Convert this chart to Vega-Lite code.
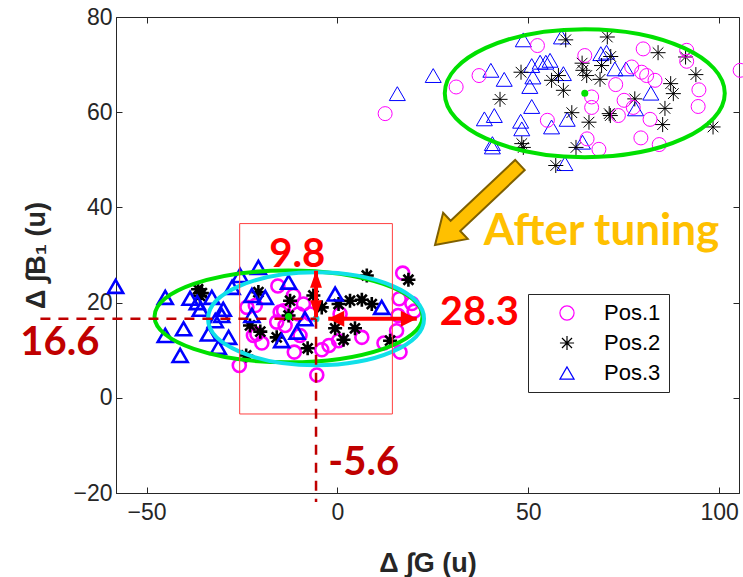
{
"$schema":"https://vega.github.io/schema/vega-lite/v6.json",
"width":623,"height":476,
"autosize":{"type":"none"},
"padding":{"left":116,"top":17,"right":4,"bottom":84},
"background":"white",
"config":{
 "view":{"stroke":"#262626","strokeWidth":1},
 "axis":{"grid":false,"domainColor":"#262626","domainWidth":1,"tickColor":"#262626","tickSize":-6,"tickWidth":1,"labelColor":"#262626","labelFont":"Liberation Sans","labelFontSize":23,"titleFont":"Liberation Sans","titleFontSize":27,"titleFontWeight":"bold","titleColor":"#262626"}
},
"datasets":{
 "pts":[
  {"x":15.7,"y":63.9,"pos":"Pos.3","phase":"before"},{"x":25.1,"y":67.7,"pos":"Pos.3","phase":"before"},{"x":48.7,"y":75.2,"pos":"Pos.3","phase":"before"},{"x":58.7,"y":75.8,"pos":"Pos.3","phase":"before"},{"x":40.2,"y":68.8,"pos":"Pos.3","phase":"before"},{"x":43.7,"y":66.9,"pos":"Pos.3","phase":"before"},{"x":50.9,"y":69.8,"pos":"Pos.3","phase":"before"},{"x":53.1,"y":70.5,"pos":"Pos.3","phase":"before"},{"x":54.6,"y":70.5,"pos":"Pos.3","phase":"before"},{"x":55.7,"y":70.9,"pos":"Pos.3","phase":"before"},{"x":59.2,"y":68.1,"pos":"Pos.3","phase":"before"},{"x":51.2,"y":67.4,"pos":"Pos.3","phase":"before"},{"x":50.4,"y":65.4,"pos":"Pos.3","phase":"before"},{"x":50.9,"y":61.2,"pos":"Pos.3","phase":"before"},{"x":41.1,"y":59.3,"pos":"Pos.3","phase":"before"},{"x":38.5,"y":58.6,"pos":"Pos.3","phase":"before"},{"x":48.0,"y":58.1,"pos":"Pos.3","phase":"before"},{"x":48.3,"y":56.5,"pos":"Pos.3","phase":"before"},{"x":56.1,"y":56.9,"pos":"Pos.3","phase":"before"},{"x":60.2,"y":58.5,"pos":"Pos.3","phase":"before"},{"x":40.6,"y":53.4,"pos":"Pos.3","phase":"before"},{"x":40.6,"y":52.7,"pos":"Pos.3","phase":"before"},{"x":64.2,"y":53.7,"pos":"Pos.3","phase":"before"},{"x":59.6,"y":49.2,"pos":"Pos.3","phase":"before"},{"x":69.0,"y":72.3,"pos":"Pos.3","phase":"before"},{"x":70.5,"y":72.6,"pos":"Pos.3","phase":"before"},{"x":72.7,"y":69.1,"pos":"Pos.3","phase":"before"},{"x":75.6,"y":69.1,"pos":"Pos.3","phase":"before"},{"x":82.1,"y":64.0,"pos":"Pos.3","phase":"before"},{"x":78.1,"y":60.7,"pos":"Pos.3","phase":"before"},
  {"x":59.8,"y":75.2,"pos":"Pos.2","phase":"before"},{"x":70.7,"y":75.8,"pos":"Pos.2","phase":"before"},{"x":48.1,"y":68.4,"pos":"Pos.2","phase":"before"},{"x":56.1,"y":66.7,"pos":"Pos.2","phase":"before"},{"x":59.2,"y":64.6,"pos":"Pos.2","phase":"before"},{"x":42.6,"y":62.7,"pos":"Pos.2","phase":"before"},{"x":57.9,"y":67.7,"pos":"Pos.2","phase":"before"},{"x":64.1,"y":70.3,"pos":"Pos.2","phase":"before"},{"x":64.3,"y":68.8,"pos":"Pos.2","phase":"before"},{"x":65.3,"y":67.7,"pos":"Pos.2","phase":"before"},{"x":69.2,"y":69.8,"pos":"Pos.2","phase":"before"},{"x":71.6,"y":71.7,"pos":"Pos.2","phase":"before"},{"x":68.8,"y":66.9,"pos":"Pos.2","phase":"before"},{"x":61.4,"y":59.9,"pos":"Pos.2","phase":"before"},{"x":65.9,"y":57.9,"pos":"Pos.2","phase":"before"},{"x":71.2,"y":59.7,"pos":"Pos.2","phase":"before"},{"x":71.5,"y":59.3,"pos":"Pos.2","phase":"before"},{"x":77.9,"y":62.8,"pos":"Pos.2","phase":"before"},{"x":84.0,"y":72.5,"pos":"Pos.2","phase":"before"},{"x":91.2,"y":71.6,"pos":"Pos.2","phase":"before"},{"x":93.9,"y":67.9,"pos":"Pos.2","phase":"before"},{"x":87.3,"y":66.0,"pos":"Pos.2","phase":"before"},{"x":88.0,"y":63.9,"pos":"Pos.2","phase":"before"},{"x":85.8,"y":60.8,"pos":"Pos.2","phase":"before"},{"x":85.2,"y":57.4,"pos":"Pos.2","phase":"before"},{"x":98.4,"y":56.9,"pos":"Pos.2","phase":"before"},{"x":48.3,"y":53.4,"pos":"Pos.2","phase":"before"},{"x":48.7,"y":52.6,"pos":"Pos.2","phase":"before"},{"x":62.5,"y":52.6,"pos":"Pos.2","phase":"before"},{"x":57.2,"y":48.8,"pos":"Pos.2","phase":"before"},
  {"x":12.5,"y":59.7,"pos":"Pos.1","phase":"before"},{"x":31.1,"y":65.3,"pos":"Pos.1","phase":"before"},{"x":37.1,"y":67.7,"pos":"Pos.1","phase":"before"},{"x":52.4,"y":74.0,"pos":"Pos.1","phase":"before"},{"x":64.8,"y":71.9,"pos":"Pos.1","phase":"before"},{"x":80.1,"y":73.3,"pos":"Pos.1","phase":"before"},{"x":91.5,"y":73.0,"pos":"Pos.1","phase":"before"},{"x":91.5,"y":70.7,"pos":"Pos.1","phase":"before"},{"x":77.1,"y":69.5,"pos":"Pos.1","phase":"before"},{"x":79.7,"y":68.4,"pos":"Pos.1","phase":"before"},{"x":81.0,"y":67.7,"pos":"Pos.1","phase":"before"},{"x":83.2,"y":66.7,"pos":"Pos.1","phase":"before"},{"x":72.9,"y":65.8,"pos":"Pos.1","phase":"before"},{"x":66.6,"y":63.2,"pos":"Pos.1","phase":"before"},{"x":66.6,"y":61.0,"pos":"Pos.1","phase":"before"},{"x":75.1,"y":62.5,"pos":"Pos.1","phase":"before"},{"x":77.5,"y":61.0,"pos":"Pos.1","phase":"before"},{"x":73.6,"y":59.3,"pos":"Pos.1","phase":"before"},{"x":81.9,"y":58.5,"pos":"Pos.1","phase":"before"},{"x":94.7,"y":64.7,"pos":"Pos.1","phase":"before"},{"x":94.5,"y":61.2,"pos":"Pos.1","phase":"before"},{"x":105.5,"y":68.8,"pos":"Pos.1","phase":"before"},{"x":55.0,"y":58.3,"pos":"Pos.1","phase":"before"},{"x":79.5,"y":54.6,"pos":"Pos.1","phase":"before"},{"x":84.3,"y":53.2,"pos":"Pos.1","phase":"before"},{"x":65.4,"y":54.4,"pos":"Pos.1","phase":"before"},{"x":68.5,"y":52.2,"pos":"Pos.1","phase":"before"},
  {"x":-25.7,"y":6.8,"pos":"Pos.1","phase":"after"},{"x":-5.4,"y":4.8,"pos":"Pos.1","phase":"after"},{"x":-15.6,"y":23.5,"pos":"Pos.1","phase":"after"},{"x":-11.5,"y":21.5,"pos":"Pos.1","phase":"after"},{"x":-21.5,"y":19.4,"pos":"Pos.1","phase":"after"},{"x":-23.7,"y":19.0,"pos":"Pos.1","phase":"after"},{"x":-15.0,"y":18.0,"pos":"Pos.1","phase":"after"},{"x":-10.2,"y":17.6,"pos":"Pos.1","phase":"after"},{"x":-14.1,"y":18.3,"pos":"Pos.1","phase":"after"},{"x":-8.9,"y":19.7,"pos":"Pos.1","phase":"after"},{"x":-7.1,"y":17.6,"pos":"Pos.1","phase":"after"},{"x":-15.9,"y":15.9,"pos":"Pos.1","phase":"after"},{"x":-13.7,"y":15.2,"pos":"Pos.1","phase":"after"},{"x":-21.1,"y":13.4,"pos":"Pos.1","phase":"after"},{"x":-22.0,"y":13.1,"pos":"Pos.1","phase":"after"},{"x":-19.8,"y":11.5,"pos":"Pos.1","phase":"after"},{"x":-9.8,"y":13.1,"pos":"Pos.1","phase":"after"},{"x":-11.3,"y":9.6,"pos":"Pos.1","phase":"after"},{"x":-4.1,"y":10.1,"pos":"Pos.1","phase":"after"},{"x":-2.2,"y":11.0,"pos":"Pos.1","phase":"after"},{"x":0.3,"y":12.0,"pos":"Pos.1","phase":"after"},{"x":0.7,"y":17.6,"pos":"Pos.1","phase":"after"},{"x":6.4,"y":12.7,"pos":"Pos.1","phase":"after"},{"x":12.2,"y":11.5,"pos":"Pos.1","phase":"after"},{"x":16.4,"y":9.6,"pos":"Pos.1","phase":"after"},{"x":15.5,"y":14.1,"pos":"Pos.1","phase":"after"},{"x":17.1,"y":26.2,"pos":"Pos.1","phase":"after"},{"x":16.2,"y":20.8,"pos":"Pos.1","phase":"after"},{"x":19.5,"y":19.8,"pos":"Pos.1","phase":"after"},{"x":20.1,"y":18.2,"pos":"Pos.1","phase":"after"},{"x":15.9,"y":17.3,"pos":"Pos.1","phase":"after"},
  {"x":-36.5,"y":22.8,"pos":"Pos.2","phase":"after"},{"x":-35.5,"y":22.0,"pos":"Pos.2","phase":"after"},{"x":-36.0,"y":21.4,"pos":"Pos.2","phase":"after"},{"x":-20.7,"y":22.2,"pos":"Pos.2","phase":"after"},{"x":-12.4,"y":20.4,"pos":"Pos.2","phase":"after"},{"x":-12.8,"y":17.3,"pos":"Pos.2","phase":"after"},{"x":-20.2,"y":13.9,"pos":"Pos.2","phase":"after"},{"x":-15.9,"y":12.7,"pos":"Pos.2","phase":"after"},{"x":-7.8,"y":10.4,"pos":"Pos.2","phase":"after"},{"x":-6.3,"y":21.5,"pos":"Pos.2","phase":"after"},{"x":-4.1,"y":19.0,"pos":"Pos.2","phase":"after"},{"x":0.3,"y":19.7,"pos":"Pos.2","phase":"after"},{"x":3.3,"y":20.4,"pos":"Pos.2","phase":"after"},{"x":6.4,"y":20.6,"pos":"Pos.2","phase":"after"},{"x":9.0,"y":19.7,"pos":"Pos.2","phase":"after"},{"x":7.7,"y":25.7,"pos":"Pos.2","phase":"after"},{"x":-0.6,"y":14.6,"pos":"Pos.2","phase":"after"},{"x":1.6,"y":12.2,"pos":"Pos.2","phase":"after"},{"x":4.6,"y":14.6,"pos":"Pos.2","phase":"after"},{"x":13.8,"y":12.0,"pos":"Pos.2","phase":"after"},{"x":18.6,"y":24.8,"pos":"Pos.2","phase":"after"},{"x":-22.9,"y":15.2,"pos":"Pos.2","phase":"after"},{"x":-23.9,"y":8.9,"pos":"Pos.2","phase":"after"},
  {"x":-58.1,"y":23.4,"pos":"Pos.3","phase":"after"},{"x":-45.1,"y":21.1,"pos":"Pos.3","phase":"after"},{"x":-38.6,"y":20.9,"pos":"Pos.3","phase":"after"},{"x":-36.7,"y":20.0,"pos":"Pos.3","phase":"after"},{"x":-32.9,"y":21.1,"pos":"Pos.3","phase":"after"},{"x":-35.9,"y":18.6,"pos":"Pos.3","phase":"after"},{"x":-29.9,"y":18.6,"pos":"Pos.3","phase":"after"},{"x":-27.6,"y":23.2,"pos":"Pos.3","phase":"after"},{"x":-40.3,"y":14.5,"pos":"Pos.3","phase":"after"},{"x":-45.1,"y":13.1,"pos":"Pos.3","phase":"after"},{"x":-33.8,"y":13.4,"pos":"Pos.3","phase":"after"},{"x":-28.5,"y":12.7,"pos":"Pos.3","phase":"after"},{"x":-41.2,"y":8.9,"pos":"Pos.3","phase":"after"},{"x":-31.2,"y":10.6,"pos":"Pos.3","phase":"after"},{"x":-32.0,"y":16.2,"pos":"Pos.3","phase":"after"},{"x":-30.3,"y":17.3,"pos":"Pos.3","phase":"after"},{"x":-25.5,"y":25.7,"pos":"Pos.3","phase":"after"},{"x":-20.7,"y":27.4,"pos":"Pos.3","phase":"after"},{"x":-22.4,"y":21.5,"pos":"Pos.3","phase":"after"},{"x":-18.9,"y":21.1,"pos":"Pos.3","phase":"after"},{"x":-12.8,"y":24.3,"pos":"Pos.3","phase":"after"},{"x":-22.4,"y":17.3,"pos":"Pos.3","phase":"after"},{"x":-14.6,"y":12.0,"pos":"Pos.3","phase":"after"},{"x":-10.6,"y":13.8,"pos":"Pos.3","phase":"after"},{"x":-8.5,"y":16.6,"pos":"Pos.3","phase":"after"},{"x":-0.6,"y":21.8,"pos":"Pos.3","phase":"after"},{"x":11.6,"y":19.0,"pos":"Pos.3","phase":"after"}
 ],
 "ell":[{"x":64.8,"y":64.0,"name":"upper"},{"x":-12.8,"y":17.1,"name":"lower"},{"x":-5.6,"y":16.6,"name":"cyan"}],
 "box":[{"x1":-25.6,"x2":14.4,"y1":-3.4,"y2":36.6}],
 "dash":[{"x1":-77.8,"x2":-5.6,"y1":16.6,"y2":16.6},{"x1":-5.6,"x2":-5.6,"y1":16.6,"y2":-21.9}],
 "shaft":[{"x1":-5.6,"x2":-5.6,"y1":16.9,"y2":26.7},{"x1":-2.4,"x2":20.8,"y1":16.6,"y2":16.6}],
 "heads":[{"x":-5.6,"y":26.7,"dir":"up"},{"x":-5.6,"y":16.9,"dir":"down"},{"x":-2.4,"y":16.6,"dir":"left"},{"x":20.8,"y":16.6,"dir":"right"}],
 "arrow":[{"x":36.7,"y":40.5}],
 "labels":[{"x":-72.7,"y":11.6,"text":"16.6","kind":"dark"},{"x":6.9,"y":-13.8,"text":"-5.6","kind":"dark"},{"x":-10.5,"y":30.0,"text":"9.8","kind":"red"},{"x":37.2,"y":17.8,"text":"28.3","kind":"red"},{"x":69.2,"y":34.9,"text":"After tuning","kind":"orange"}]
},
"resolve":{"axis":{"x":"independent","y":"independent"},"scale":{"size":"independent"}},
"layer":[
 {"data":{"name":"pts"},"transform":[{"filter":"datum.phase=='before'"}],
  "mark":{"type":"point","filled":false,"strokeWidth":1,"opacity":1},
  "encoding":{
   "x":{"field":"x","type":"quantitative","scale":{"domain":[-58,105.2],"nice":false,"zero":false},"axis":null},
   "y":{"field":"y","type":"quantitative","scale":{"domain":[-20,80],"nice":false,"zero":false},"axis":null},
   "color":{"field":"pos","type":"nominal","scale":{"domain":["Pos.1","Pos.2","Pos.3"],"range":["#FF00FF","#000000","#0000FF"]},
     "legend":{"orient":"none","legendX":412,"legendY":277,"title":null,"strokeColor":"#262626","fillColor":"white","padding":8,"rowPadding":8,"labelFontSize":22,"labelFont":"Liberation Sans","labelColor":"black","symbolSize":200,"symbolStrokeWidth":1.2,"symbolOffset":20,"labelOffset":26,"labelLimit":200}},
   "shape":{"field":"pos","type":"nominal","scale":{"domain":["Pos.1","Pos.2","Pos.3"],"range":["circle","M0,-1L0,1M-1,0L1,0M-0.71,-0.71L0.71,0.71M-0.71,0.71L0.71,-0.71","triangle-up"]},
     "legend":{"orient":"none","legendX":412,"legendY":277,"title":null,"strokeColor":"#262626","fillColor":"white","padding":8,"rowPadding":8,"labelFontSize":22,"labelFont":"Liberation Sans","labelColor":"black","symbolSize":200,"symbolStrokeWidth":1.2,"symbolOffset":20,"labelOffset":26,"labelLimit":200}},
   "size":{"field":"pos","type":"nominal","scale":{"domain":["Pos.1","Pos.2","Pos.3"],"range":[196,256,324]},"legend":null}
  }},
 {"data":{"name":"pts"},"transform":[{"filter":"datum.phase=='after'"}],
  "mark":{"type":"point","filled":false,"strokeWidth":2.6,"opacity":1},
  "encoding":{
   "x":{"field":"x","type":"quantitative","axis":{"orient":"bottom","values":[-50,0,50,100],"title":"Δ ∫G (u)","labelPadding":14,"titleX":311.5,"titleY":70,"titleBaseline":"middle","titleAlign":"center"}},
   "y":{"field":"y","type":"quantitative","axis":{"orient":"left","values":[-20,0,20,40,60,80],"title":"Δ ∫B₁ (u)","labelPadding":10,"titleX":-80,"titleY":238,"titleBaseline":"middle","titleAlign":"center","titleAngle":-90}},
   "color":{"field":"pos","type":"nominal"},
   "shape":{"field":"pos","type":"nominal"},
   "size":{"field":"pos","type":"nominal","scale":{"domain":["Pos.1","Pos.2","Pos.3"],"range":[169,225,256]},"legend":null}
  }},
 {"data":{"name":"ell"},"transform":[{"filter":"datum.name=='upper'"}],
  "mark":{"type":"point","shape":"M-1,0A1,0.457,0,1,1,1,0A1,0.457,0,1,1,-1,0Z","size":78400,"filled":false,"stroke":"#00E000","strokeWidth":4,"opacity":1},
  "encoding":{"x":{"field":"x","type":"quantitative","axis":null},"y":{"field":"y","type":"quantitative","axis":null}}},
 {"data":{"name":"ell"},"transform":[{"filter":"datum.name=='lower'"}],
  "mark":{"type":"point","shape":"M-1,0A1,0.343,0,1,1,1,0A1,0.343,0,1,1,-1,0Z","size":71824,"filled":false,"stroke":"#00E000","strokeWidth":4,"opacity":1},
  "encoding":{"x":{"field":"x","type":"quantitative","axis":null},"y":{"field":"y","type":"quantitative","axis":null}}},
 {"data":{"name":"ell"},"transform":[{"filter":"datum.name=='cyan'"}],
  "mark":{"type":"point","shape":"M-1,0A1,0.431,0,1,1,1,0A1,0.431,0,1,1,-1,0Z","size":46656,"filled":false,"stroke":"#10E0E8","strokeWidth":4,"opacity":1},
  "encoding":{"x":{"field":"x","type":"quantitative","axis":null},"y":{"field":"y","type":"quantitative","axis":null}}},
 {"data":{"name":"ell"},"transform":[{"filter":"datum.name!='cyan'"}],
  "mark":{"type":"point","shape":"circle","size":49,"filled":true,"fill":"#00E000","strokeWidth":0,"opacity":1},
  "encoding":{"x":{"field":"x","type":"quantitative","axis":null},"y":{"field":"y","type":"quantitative","axis":null}}},
 {"data":{"name":"ell"},"transform":[{"filter":"datum.name=='cyan'"}],
  "mark":{"type":"point","shape":"circle","size":49,"filled":true,"fill":"#10E0E8","strokeWidth":0,"opacity":1},
  "encoding":{"x":{"field":"x","type":"quantitative","axis":null},"y":{"field":"y","type":"quantitative","axis":null}}},
 {"data":{"name":"box"},
  "mark":{"type":"rect","fill":null,"fillOpacity":0,"stroke":"#FF4040","strokeWidth":1},
  "encoding":{"x":{"field":"x1","type":"quantitative","axis":{"orient":"top","values":[-50,0,50,100],"labels":false,"title":null,"domain":false}},"x2":{"field":"x2"},
   "y":{"field":"y1","type":"quantitative","axis":{"orient":"right","values":[-20,0,20,40,60,80],"labels":false,"title":null,"domain":false}},"y2":{"field":"y2"}}},
 {"data":{"name":"dash"},
  "mark":{"type":"rule","stroke":"#C00000","strokeWidth":2.5,"strokeDash":[10,8]},
  "encoding":{"x":{"field":"x1","type":"quantitative","axis":null},"x2":{"field":"x2"},"y":{"field":"y1","type":"quantitative","axis":null},"y2":{"field":"y2"}}},
 {"data":{"name":"shaft"},
  "mark":{"type":"rule","stroke":"#FF0000","strokeWidth":4},
  "encoding":{"x":{"field":"x1","type":"quantitative","axis":null},"x2":{"field":"x2"},"y":{"field":"y1","type":"quantitative","axis":null},"y2":{"field":"y2"}}},
 {"data":{"name":"heads"},"transform":[{"filter":"datum.dir=='up'"}],
  "mark":{"type":"point","shape":"M0,-1L-0.7,1L0.7,1Z","size":289,"filled":true,"fill":"#FF0000","strokeWidth":0,"opacity":1,"yOffset":8.5},
  "encoding":{"x":{"field":"x","type":"quantitative","axis":null},"y":{"field":"y","type":"quantitative","axis":null}}},
 {"data":{"name":"heads"},"transform":[{"filter":"datum.dir=='down'"}],
  "mark":{"type":"point","shape":"M0,1L-0.7,-1L0.7,-1Z","size":289,"filled":true,"fill":"#FF0000","strokeWidth":0,"opacity":1,"yOffset":-8.5},
  "encoding":{"x":{"field":"x","type":"quantitative","axis":null},"y":{"field":"y","type":"quantitative","axis":null}}},
 {"data":{"name":"heads"},"transform":[{"filter":"datum.dir=='left'"}],
  "mark":{"type":"point","shape":"M-1,0L1,-1L1,1Z","size":256,"filled":true,"fill":"#FF0000","strokeWidth":0,"opacity":1,"xOffset":8},
  "encoding":{"x":{"field":"x","type":"quantitative","axis":null},"y":{"field":"y","type":"quantitative","axis":null}}},
 {"data":{"name":"heads"},"transform":[{"filter":"datum.dir=='right'"}],
  "mark":{"type":"point","shape":"M1,0L-1,-1L-1,1Z","size":256,"filled":true,"fill":"#FF0000","strokeWidth":0,"opacity":1,"xOffset":-8},
  "encoding":{"x":{"field":"x","type":"quantitative","axis":null},"y":{"field":"y","type":"quantitative","axis":null}}},
 {"data":{"name":"arrow"},
  "mark":{"type":"point","shape":"M0.788,-0.582L-0.288,0.432L-0.163,0.565L-0.708,0.667L-0.573,0.128L-0.448,0.262L0.628,-0.752Z","size":14400,"filled":true,"fill":"#FFC000","stroke":"#7F6000","strokeWidth":2,"opacity":1},
  "encoding":{"x":{"field":"x","type":"quantitative","axis":null},"y":{"field":"y","type":"quantitative","axis":null}}},
 {"data":{"name":"labels"},"transform":[{"filter":"datum.kind=='dark'"}],
  "mark":{"type":"text","font":"Lato","fontWeight":"bold","fontSize":40,"fill":"#C00000","baseline":"middle","align":"center"},
  "encoding":{"x":{"field":"x","type":"quantitative","axis":null},"y":{"field":"y","type":"quantitative","axis":null},"text":{"field":"text"}}},
 {"data":{"name":"labels"},"transform":[{"filter":"datum.kind=='red'"}],
  "mark":{"type":"text","font":"Lato","fontWeight":"bold","fontSize":40,"fill":"#FF0000","baseline":"middle","align":"center"},
  "encoding":{"x":{"field":"x","type":"quantitative","axis":null},"y":{"field":"y","type":"quantitative","axis":null},"text":{"field":"text"}}},
 {"data":{"name":"labels"},"transform":[{"filter":"datum.kind=='orange'"}],
  "mark":{"type":"text","font":"Lato","fontWeight":"bold","fontSize":44,"fill":"#FFC000","baseline":"middle","align":"center"},
  "encoding":{"x":{"field":"x","type":"quantitative","axis":null},"y":{"field":"y","type":"quantitative","axis":null},"text":{"field":"text"}}}
]
}
